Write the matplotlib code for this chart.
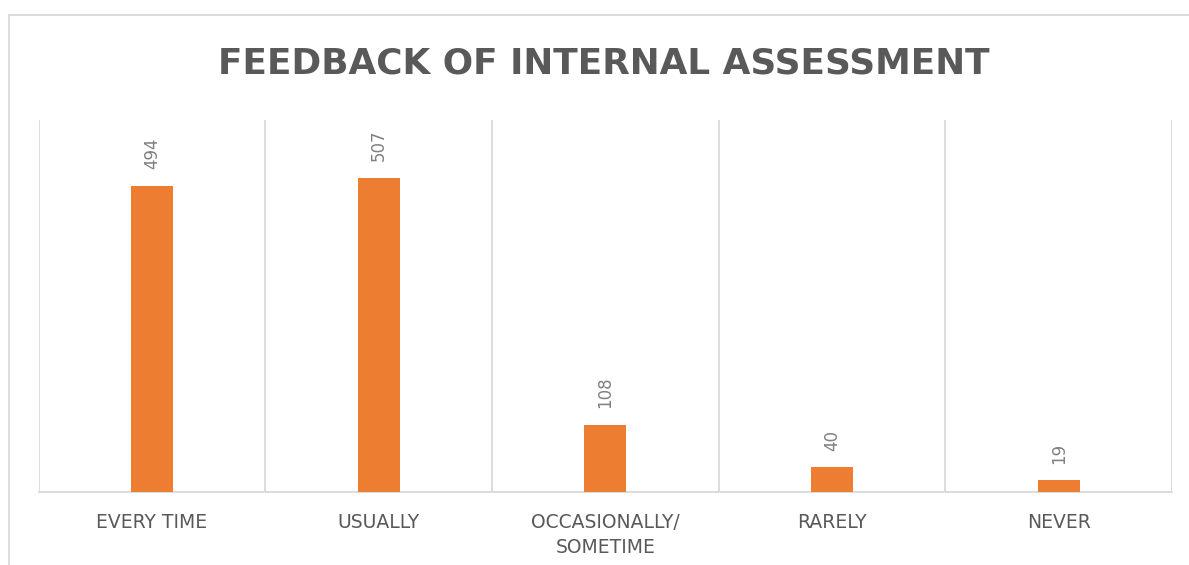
import matplotlib
matplotlib.use("Agg")
import matplotlib.pyplot as plt
from matplotlib.lines import Line2D
import numpy as np

categories = ["EVERY TIME", "USUALLY", "OCCASIONALLY/\nSOMETIME", "RARELY", "NEVER"]
values = [494, 507, 108, 40, 19]
title = "FEEDBACK OF INTERNAL ASSESSMENT"

W, H = 1189, 565
fig = plt.figure(figsize=(W / 100, H / 100), dpi=100)
fig.patch.set_facecolor("white")

# chart border (top and left edges visible)
bx, by = 9 / W, 1 - 15 / H
fig.add_artist(Line2D([bx, 1.0], [by, by], transform=fig.transFigure,
                      color="#d9d9d9", linewidth=1.3))
fig.add_artist(Line2D([bx, bx], [0.0, by], transform=fig.transFigure,
                      color="#d9d9d9", linewidth=1.3))

ax = fig.add_axes([38.5 / W, (H - 492) / H, (1172 - 38.5) / W, (492 - 120) / H])
x = np.arange(len(categories))
ax.bar(x, values, width=0.185, color="#ED7D31", zorder=3)
ax.set_xlim(-0.5, len(categories) - 0.5)
ax.set_ylim(0, 600)

for s in ["top", "right", "left"]:
    ax.spines[s].set_visible(False)
ax.spines["bottom"].set_color("#d9d9d9")
ax.spines["bottom"].set_linewidth(1.3)
ax.set_yticks([])
ax.set_xticks(x)
ax.set_xticklabels(categories, fontsize=13.5, color="#595959", family="DejaVu Sans",
                   linespacing=1.4)
ax.tick_params(axis="x", length=0, pad=15)
ax.set_xticks(np.arange(-0.5, len(categories)), minor=True)
ax.tick_params(axis="x", which="minor", length=0)
ax.grid(axis="x", which="minor", color="#d9d9d9", linewidth=1.3, zorder=0)
ax.grid(axis="x", which="major", visible=False)

for xi, v in zip(x, values):
    ax.annotate(str(v), (xi, v), xytext=(0, 12), textcoords="offset points",
                rotation=90, ha="center", va="bottom", fontsize=12,
                color="#808080", family="DejaVu Sans")

fig.text(604 / W, 1 - 63 / H, title, ha="center", va="center", fontsize=25.8,
         fontweight="bold", color="#595959", family="DejaVu Sans")

fig.savefig("out.png", dpi=100)
